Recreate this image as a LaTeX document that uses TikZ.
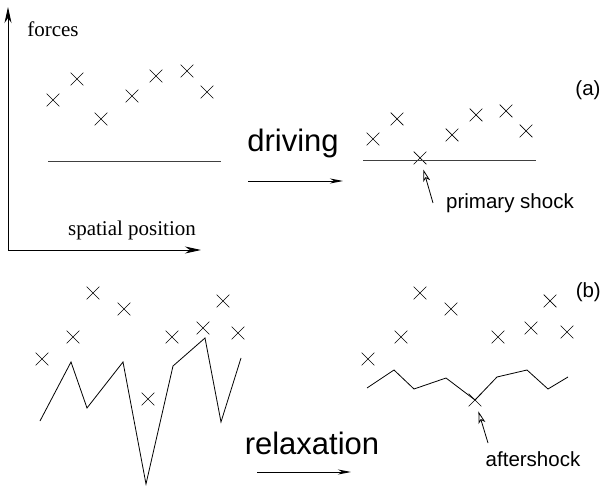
\documentclass[tikz,border=0pt]{standalone}
\usepackage{fontspec}
\setmainfont{Liberation Serif}
\setsansfont{Liberation Sans}
\usetikzlibrary{shapes.misc, arrows.meta, positioning}
\tikzstyle{site} = [cross out, draw, minimum size=12pt, inner sep=0pt, line width=0.7pt]
\tikzstyle{threshold} = [line width=0.9pt, black!75]
\tikzstyle{profile} = [line width=0.8pt]
\tikzstyle{axis} = [line width=0.9pt, -{Stealth[length=16pt,width=7pt,inset=5pt]}]
\tikzstyle{step_arrow} = [line width=0.8pt, -{Stealth[length=13pt,width=5pt,inset=4pt]}]
\tikzstyle{pointer} = [line width=0.8pt, -{Stealth[open,length=12pt,width=7pt,inset=3pt]}, shorten >=12pt]
\tikzstyle{axislabel} = [font=\rmfamily\fontsize{21}{24}\selectfont, inner sep=0pt]
\tikzstyle{steplabel} = [font=\sffamily\fontsize{31}{36}\selectfont, inner sep=0pt]
\tikzstyle{note} = [font=\sffamily\fontsize{20.5}{24}\selectfont, inner sep=0pt]

\begin{document}
\begin{tikzpicture}[x=1pt, y=-1pt]
\useasboundingbox (0,0) rectangle (603,489);

% --- Axes ---
\coordinate (origin) at (8,250);
\coordinate (ytop) at (8,7);
\coordinate (xend) at (201,250);
\draw [axis] (origin) -- (ytop);
\draw [axis] (origin) -- (xend);
\node (forces) [axislabel] at (53,29) {forces};
\node (spatial) [axislabel] at (132,230) {spatial position};

% --- (a) before driving ---
\node (a1) [site] at (53,100) {};
\node (a2) [site] at (77,79) {};
\node (a3) [site] at (101,119) {};
\node (a4) [site] at (132,96) {};
\node (a5) [site] at (156,76) {};
\node (a6) [site] at (187,71) {};
\node (a7) [site] at (207,92) {};
\draw [threshold] (48,161) -- (221,161);

% --- Driving ---
\node (driving) [steplabel] at (293,143) {driving};
\coordinate (drive_from) at (248,181);
\coordinate (drive_to) at (343,181);
\draw [step_arrow] (drive_from) -- (drive_to);

% --- (a) after driving ---
\node (b1) [site] at (373,139) {};
\node (b2) [site] at (397,119) {};
\node (shock) [site] at (420,158) {};
\node (b4) [site] at (452,135) {};
\node (b5) [site] at (476,115) {};
\node (b6) [site] at (506,111) {};
\node (b7) [site] at (526,131) {};
\draw [threshold] (363,160) -- (536,160);
\coordinate (shock_tail) at (433,203);
\node (primary) [note, right=13pt of shock_tail] {primary shock};
\draw [pointer] (shock_tail) -- (shock.center);
\node (label_a) [note] at (588,90) {(a)};

% --- (b) before relaxation ---
\node (c1) [site] at (42,359) {};
\node (c2) [site] at (73,337) {};
\node (c3) [site] at (93,293) {};
\node (c4) [site] at (124,309) {};
\node (c5) [site] at (148,399) {};
\node (c6) [site] at (172,337) {};
\node (c7) [site] at (203,328) {};
\node (c8) [site] at (223,301) {};
\node (c9) [site] at (238,333) {};
\draw [profile] (40,421) -- (71,362) -- (87,408) -- (123,362) -- (146,484)
  -- (173,366) -- (205,338) -- (221,422) -- (241,358);

% --- Relaxation ---
\node (relaxation) [steplabel] at (312,443) {relaxation};
\coordinate (relax_from) at (257,472);
\coordinate (relax_to) at (351,472);
\draw [step_arrow] (relax_from) -- (relax_to);

% --- (b) after relaxation ---
\node (d1) [site] at (368,359) {};
\node (d2) [site] at (401,337) {};
\node (d3) [site] at (420,293) {};
\node (d4) [site] at (451,309) {};
\node (after) [site] at (475,400) {};
\node (d6) [site] at (498,337) {};
\node (d7) [site] at (531,328) {};
\node (d8) [site] at (550,301) {};
\node (d9) [site] at (567,332) {};
\draw [profile] (367,388) -- (394,370) -- (414,389) -- (446,378) -- (475,400)
  -- (497,377) -- (527,370) -- (548,389) -- (568,377);
\coordinate (after_tail) at (488,443);
\node (aftershock) [note] at (533,459) {aftershock};
\draw [pointer] (after_tail) -- (after.center);
\node (label_b) [note, anchor=east] at (601,292) {(b)};

\end{tikzpicture}
\end{document}
